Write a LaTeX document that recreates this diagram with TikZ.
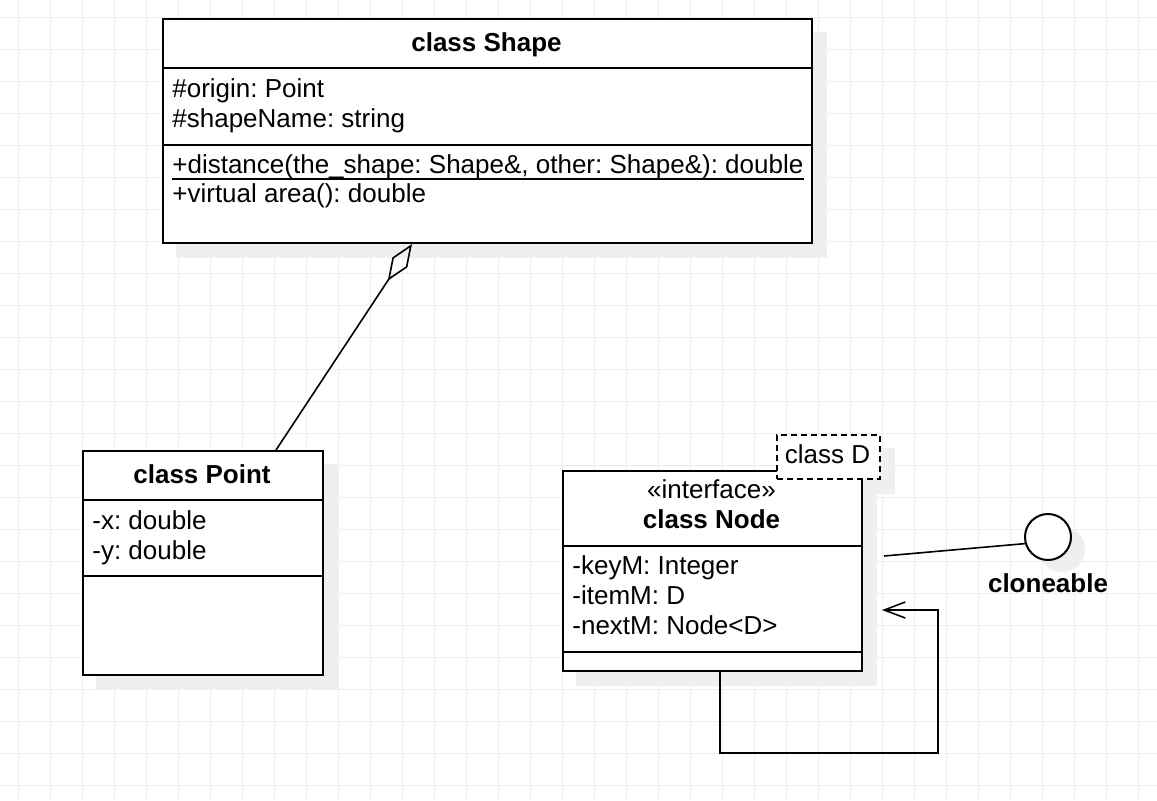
\documentclass[tikz,border=0pt]{standalone}
\usepackage{fontspec}
\setmainfont{Liberation Sans}
\usetikzlibrary{arrows.meta,backgrounds}
\definecolor{gridgrey}{RGB}{238,238,238}
\definecolor{shadowgrey}{RGB}{239,239,239}
\frenchspacing

\begin{document}
\begin{tikzpicture}[x=0.5pt,y=-0.5pt,
    umlbox/.style={draw,line width=1pt,fill=white,inner sep=0pt,anchor=north west},
    txt/.style={inner sep=0pt,font=\fontsize{13}{15}\selectfont},
    bold/.style={inner sep=0pt,font=\fontsize{13}{15}\selectfont\bfseries},
    sep/.style={line width=1pt},
    link/.style={line width=0.8pt},
    gridline/.style={gridgrey,line width=0.5pt}]
  \useasboundingbox (0,0) rectangle (1157,800);

  \node[umlbox,minimum width=324.5pt,minimum height=112pt] (shape) at (162,18) {};
  \draw[sep] (shape.west |- 0,68) -- (shape.east |- 0,68);
  \draw[sep] (shape.west |- 0,145) -- (shape.east |- 0,145);
  \node[bold,anchor=base] (shapehd) at (486.5,51) {class Shape};
  \node[txt,anchor=base west] (origin) at (172,97) {\#origin: Point};
  \node[txt,anchor=base west] (sname) at (172,127) {\#shapeName: string};
  \node[txt,anchor=base west] (dist) at (172,173) {+distance(the\_shape: Shape\&, other: Shape\&): double};
  \draw[line width=0.75pt] ([yshift=-3pt]dist.base west) -- ([yshift=-3pt]dist.base east);
  \node[txt,anchor=base west] (area) at (172,202) {+virtual area(): double};

  \node[umlbox,minimum width=120pt,minimum height=112pt] (point) at (82,450) {};
  \draw[sep] (point.west |- 0,500) -- (point.east |- 0,500);
  \draw[sep] (point.west |- 0,576) -- (point.east |- 0,576);
  \node[bold,anchor=base] (pointhd) at (202,483) {class Point};
  \node[txt,anchor=base west] (px) at (92,529) {-x: double};
  \node[txt,anchor=base west] (py) at (92,559) {-y: double};

  \node[umlbox,minimum width=149.5pt,minimum height=100pt] (nodecls) at (562,470) {};
  \draw[sep] (nodecls.west |- 0,546) -- (nodecls.east |- 0,546);
  \draw[sep] (nodecls.west |- 0,652) -- (nodecls.east |- 0,652);
  \node[txt,anchor=base] (stereo) at (711.5,498) {«interface»};
  \node[bold,anchor=base] (nodehd) at (711.5,528) {class Node};
  \node[txt,anchor=base west] (keym) at (572,574) {-keyM: Integer};
  \node[txt,anchor=base west] (itemm) at (572,604) {-itemM: D};
  \node[txt,anchor=base west] (nextm) at (572,634) {-nextM: Node<D>};

  \node[umlbox,dash pattern=on 3pt off 2pt,minimum width=51.5pt,minimum height=22pt] (classd) at (776,434) {};
  \node[txt,anchor=base] (classdtxt) at (827.5,463) {class D};

  \node[draw,circle,line width=1pt,fill=white,minimum size=23pt,inner sep=0pt] (clone) at (1048,537) {};
  \node[bold,anchor=base] (clonelbl) at (1048,592) {cloneable};

  \coordinate (lolli) at (884,556);
  \coordinate (selfin) at (882,610);
  \coordinate (loopc) at (938,753);

  \draw[link,{Diamond[open,length=22pt,width=9pt]}-] ([xshift=125pt]shape.south west) -- ([xshift=97pt]point.north west);
  \draw[link] (lolli) -- (clone.196);
  \draw[link,-{Straight Barb[length=10.5pt,width=8pt]}] ([xshift=79pt]nodecls.south west) |- (loopc) |- (selfin);

  \begin{scope}[on background layer]
    \fill[white] (0,0) rectangle (1157,800);
    \foreach \gx in {18,50,...,1138} \draw[gridline] (\gx,0) -- (\gx,800);
    \foreach \gy in {17,49,...,785} \draw[gridline] (0,\gy) -- (1157,\gy);
    \foreach \b in {shape,point,nodecls,classd}
      \fill[shadowgrey] ([shift={(7pt,-7pt)}]\b.north west) rectangle ([shift={(7pt,-7pt)}]\b.south east);
    \fill[shadowgrey] ([shift={(7pt,-6pt)}]clone.center) circle (11.5pt);
  \end{scope}
\end{tikzpicture}
\end{document}
